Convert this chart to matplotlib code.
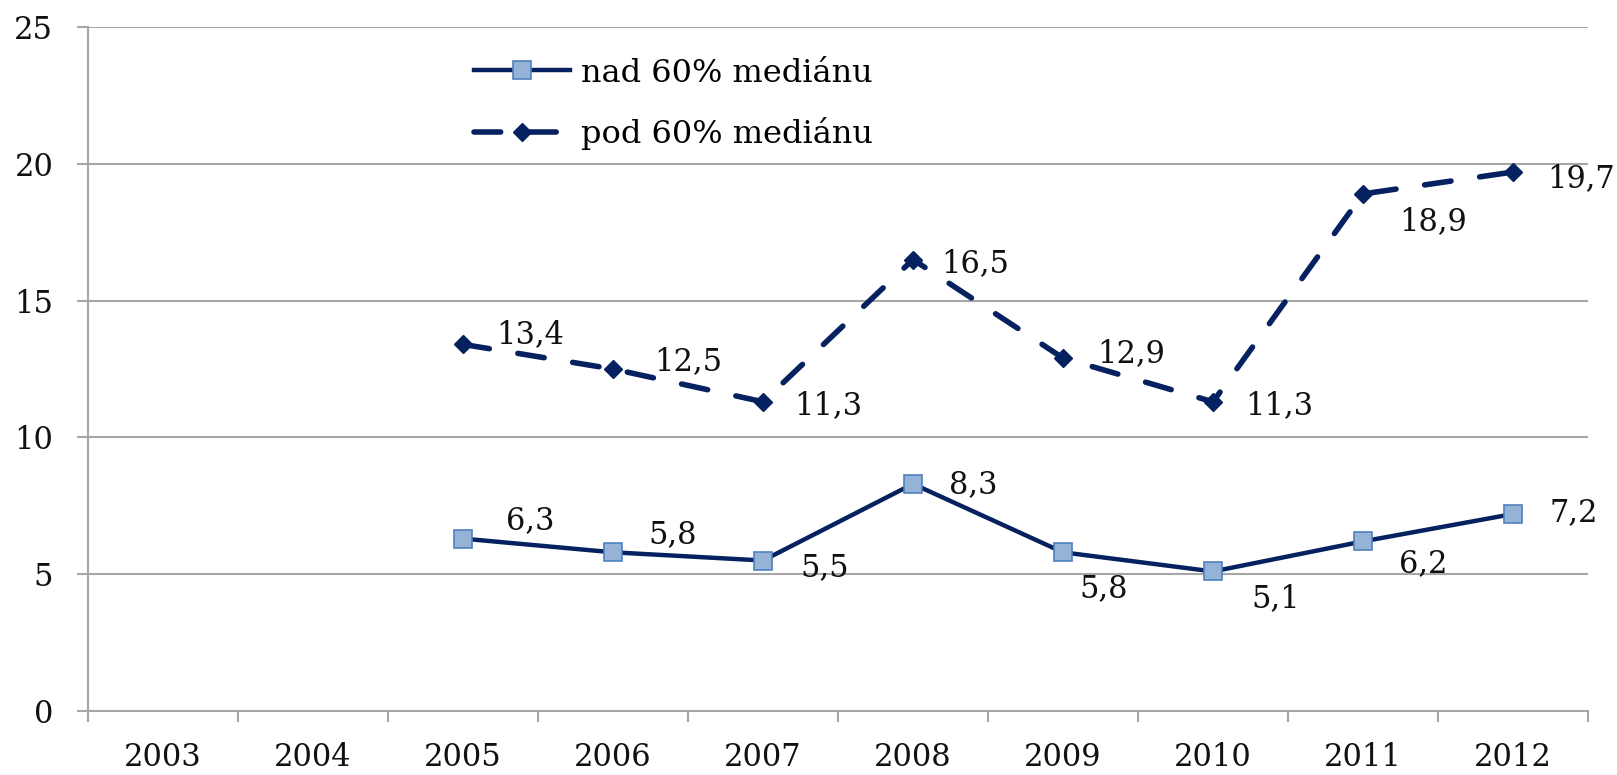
import matplotlib
matplotlib.use("Agg")
import matplotlib.pyplot as plt
from matplotlib.ticker import FixedLocator, NullFormatter

# ---- data ----
years = ["2003", "2004", "2005", "2006", "2007", "2008", "2009", "2010", "2011", "2012"]
data_years = ["2005", "2006", "2007", "2008", "2009", "2010", "2011", "2012"]
nad = [6.3, 5.8, 5.5, 8.3, 5.8, 5.1, 6.2, 7.2]
pod = [13.4, 12.5, 11.3, 16.5, 12.9, 11.3, 18.9, 19.7]
nad_label = "nad 60% mediánu"
pod_label = "pod 60% mediánu"
y_ticks = [0, 5, 10, 15, 20, 25]

# label offsets (points) relative to the marker
nad_off = [(65, -17), (58, -17), (60, 7), (58, 1), (39, 35), (61, 26), (58, 22), (59, -1)]
pod_off = [(65, -9), (73, -7), (63, 4), (60, 4), (66, -4), (64, 4), (68, 27), (66, 6)]

NAVY = "#06215F"
SQ_FILL = "#95B3D7"
SQ_EDGE = "#4F81BD"
GRID = "#A6A6A6"
FONT = "DejaVu Serif"
FS = 22

fig = plt.figure(figsize=(16.17, 7.75), dpi=100)
ax = fig.add_axes([88 / 1617, 1 - 711 / 775, 1500 / 1617, (711 - 27) / 775])

xpos = {y: i + 0.5 for i, y in enumerate(years)}
xs = [xpos[y] for y in data_years]

ax.plot(xs, nad, color=NAVY, lw=3.2, marker="s", markersize=13,
        markerfacecolor=SQ_FILL, markeredgecolor=SQ_EDGE, markeredgewidth=1.2,
        label=nad_label, zorder=4)
ax.plot(xs, pod, color=NAVY, lw=4.0, linestyle=(0, (4.8, 5.2)), dash_capstyle="round",
        marker="D", markersize=9, markerfacecolor=NAVY, markeredgecolor=NAVY,
        label=pod_label, zorder=4)

def fmt(v):
    return f"{v:.1f}".replace(".", ",")

k = 0.742
for x, v, (dx, dy) in zip(xs, nad, nad_off):
    ax.annotate(fmt(v), (x, v), xytext=(dx * k, -dy * k), textcoords="offset points",
                ha="center", va="center", fontsize=FS, family=FONT, color="#111111", zorder=5)
for x, v, (dx, dy) in zip(xs, pod, pod_off):
    ax.annotate(fmt(v), (x, v), xytext=(dx * k, -dy * k), textcoords="offset points",
                ha="center", va="center", fontsize=FS, family=FONT, color="#111111", zorder=5)

ax.set_xlim(0, len(years))
ax.set_ylim(0, 25)
ax.xaxis.set_major_locator(FixedLocator(list(range(len(years) + 1))))
ax.xaxis.set_major_formatter(NullFormatter())
ax.xaxis.set_minor_locator(FixedLocator([i + 0.5 for i in range(len(years))]))
ax.set_xticklabels(years, minor=True)
ax.tick_params(axis="x", which="major", direction="out", length=8, width=1.5, color=GRID)
ax.tick_params(axis="x", which="minor", length=0, pad=22, labelsize=FS)
ax.set_yticks(y_ticks)
ax.tick_params(axis="y", direction="out", length=8, width=1.5, color=GRID, pad=17, labelsize=FS)
for lab in ax.get_xticklabels(minor=True) + ax.get_yticklabels():
    lab.set_family(FONT)
    lab.set_color("#111111")

ax.yaxis.grid(True, color=GRID, lw=1.5)
ax.set_axisbelow(True)
for s in ["top", "right"]:
    ax.spines[s].set_visible(False)
for s in ["left", "bottom"]:
    ax.spines[s].set_color(GRID)
    ax.spines[s].set_linewidth(1.5)

leg = fig.legend(loc="center left", bbox_to_anchor=(474 / 1617, 1 - 104 / 775),
                 frameon=False, prop={"family": FONT, "size": FS + 1},
                 handlelength=3.0, handletextpad=0.35, labelspacing=0.9,
                 borderpad=0, borderaxespad=0)

fig.savefig("out.png", dpi=100, facecolor="white")
